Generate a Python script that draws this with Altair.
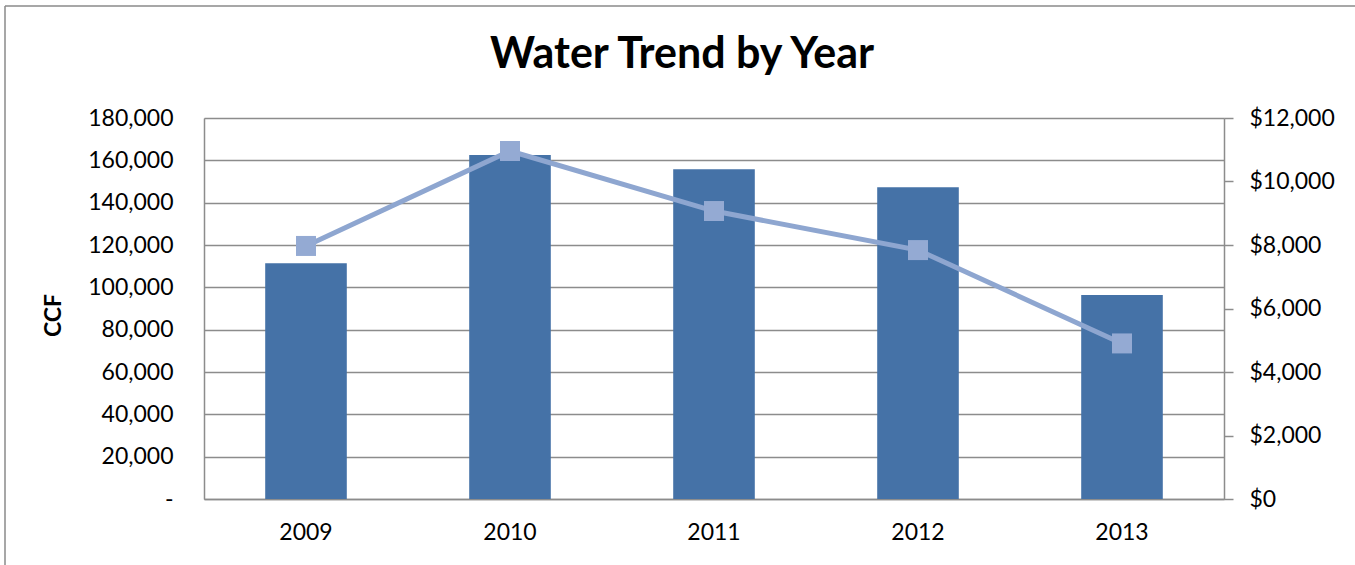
import altair as alt
import pandas as pd

years = ["2009", "2010", "2011", "2012", "2013"]
ccf = [111400, 162500, 155800, 147300, 96400]
cost = [7970, 10960, 9070, 7840, 4900]
left_ticks = [0, 20000, 40000, 60000, 80000, 100000, 120000, 140000, 160000, 180000]
right_ticks = [0, 2000, 4000, 6000, 8000, 10000, 12000]

df = pd.DataFrame({"Year": years, "CCF": ccf, "Cost": cost})

GRID = "#8c8c8c"
FONT = "Lato"

xenc = alt.X(
    "Year:N",
    sort=years,
    scale=alt.Scale(paddingInner=0.6, paddingOuter=0.3),
    axis=alt.Axis(
        title=None, labelAngle=0, ticks=False, labelPadding=22,
        labelFont=FONT, labelFontSize=23, labelColor="black",
        domainColor=GRID, domainWidth=1.5,
    ),
)

bars = alt.Chart(df).mark_bar(color="#4572A7").encode(
    x=xenc,
    y=alt.Y(
        "CCF:Q",
        scale=alt.Scale(domain=[0, 180000], nice=False),
        axis=alt.Axis(
            values=left_ticks,
            labelExpr="datum.value == 0 ? '-\u00a0\u00a0' : format(datum.value, ',')",
            ticks=False, labelPadding=31,
            labelFont=FONT, labelFontSize=23, labelColor="black",
            domainColor=GRID, domainWidth=1.5,
            grid=True, gridColor=GRID, gridWidth=1.5,
            title="CCF", titleFont=FONT, titleFontSize=23, titleFontWeight="bold",
            titleColor="black", titleX=-151, titleY=197,
            titleAlign="center", titleBaseline="middle", titleAngle=270,
        ),
    ),
)

yright = alt.Y(
    "Cost:Q",
    scale=alt.Scale(domain=[0, 12000], nice=False),
    axis=alt.Axis(
        orient="right", values=right_ticks, format="$,.0f",
        grid=False, tickSize=9, tickColor=GRID, tickWidth=1.5,
        labelPadding=16, labelFont=FONT, labelFontSize=23, labelColor="black",
        domainColor=GRID, domainWidth=1.5, title=None,
    ),
)

line = alt.Chart(df).mark_line(color="#8EA6D0", strokeWidth=5).encode(
    x=alt.X("Year:N", sort=years), y=yright
)
points = alt.Chart(df).mark_point(
    shape="square", size=400, filled=True, color="#94AAD3", opacity=1
).encode(x=alt.X("Year:N", sort=years), y=alt.Y("Cost:Q"))

border_df = pd.DataFrame({"k": [0]})
top_border = alt.Chart(border_df).mark_rule(color="#8a8a8a", strokeWidth=1.5).encode(
    x=alt.value(-199), x2=alt.value(1160), y=alt.value(-112)
)
left_border = alt.Chart(border_df).mark_rule(color="#8a8a8a", strokeWidth=1.5).encode(
    x=alt.value(-199), y=alt.value(-112), y2=alt.value(460)
)

chart = (
    alt.layer(bars, line + points, top_border, left_border)
    .resolve_scale(y="independent")
    .properties(
        width=1020,
        height=381,
        autosize="none",
        padding={"left": 204, "top": 118, "right": 131, "bottom": 66},
        title=alt.TitleParams(
            "Water Trend by Year", font=FONT, fontSize=43, fontWeight="bold",
            color="black", anchor="middle", dx=-32, offset=0, dy=106,
            baseline="alphabetic",
        ),
    )
    .configure_view(strokeOpacity=0)
    .configure(background="white")
)

chart.save("out.html", embed_options={"renderer": "svg", "actions": False})
